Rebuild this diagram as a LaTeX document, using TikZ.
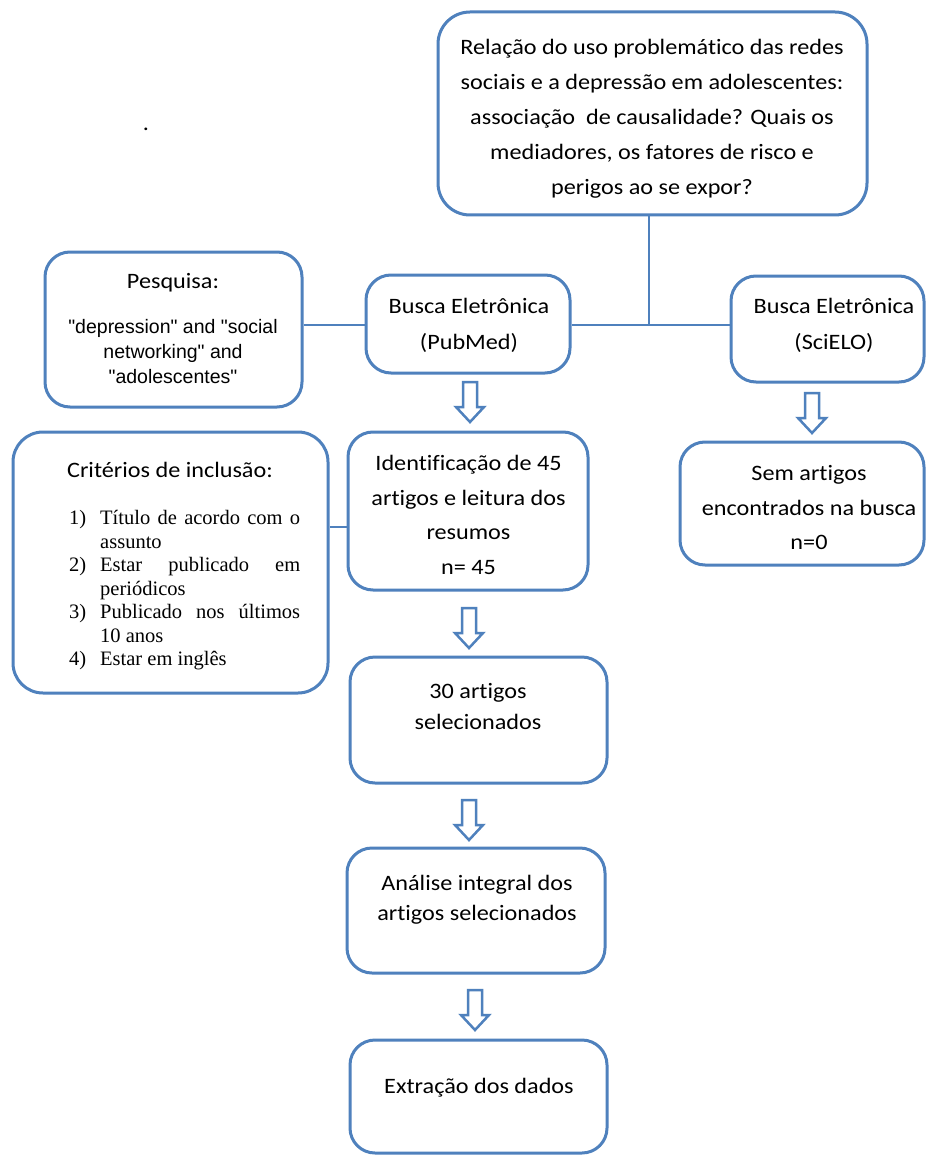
\documentclass[tikz,border=0pt]{standalone}
\usepackage{fontspec}
\setmainfont{Carlito}[FakeStretch=1.1, Ligatures=NoCommon]
\newfontfamily\seriffont{Liberation Serif}
\newfontfamily\arialfont{Liberation Sans}
\usetikzlibrary{fit}
\definecolor{bblue}{RGB}{79,129,189}
\tikzset{
  box/.style={draw=bblue, line width=3pt, rounded corners=25pt, inner sep=0pt},
  bigbox/.style={box, rounded corners=32pt},
  conn/.style={draw=bblue, line width=2pt},
  arrowline/.style={draw=bblue, line width=2.5pt, fill=white, line join=miter},
  txt/.style={align=center, inner sep=0pt, font=\fontsize{22}{35}\selectfont},
  blockarrow/.pic={\path[arrowline] (-7,0) -- (7,0) -- (7,25) -- (14,25) -- (0,40) -- (-14,25) -- (-7,25) -- cycle;}
}
\begin{document}
\begin{tikzpicture}[x=1pt,y=-1pt]
\useasboundingbox[fill=white] (0,0) rectangle (926,1158);
% boxes
\node[bigbox, fit={(438,12) (867,215)}] (top) {};
\node[box, fit={(45,252) (302,407)}] (pesq) {};
\node[box, fit={(366,275) (570,373)}] (pub) {};
\node[box, fit={(731,276) (924,382)}] (sci) {};
\node[box, fit={(348,432) (588,590)}] (ident) {};
\node[box, fit={(13,432) (328,693)}, rounded corners=30pt] (crit) {};
\node[box, fit={(680,442) (924,565)}] (sem) {};
\node[box, fit={(350,657) (607,783)}] (trinta) {};
\node[box, fit={(347,848) (605,973)}] (anal) {};
\node[box, fit={(350,1040) (607,1153)}] (extr) {};
% connectors
\coordinate (j) at (649,325);
\coordinate (cl) at (0,527);
\draw[conn] (j |- top.south) -- (j);
\draw[conn] (pub.east |- j) -- (sci.west |- j);
\draw[conn] (pesq.east |- j) -- (pub.west |- j);
\draw[conn, line width=1.5pt] (crit.east |- cl) -- (ident.west |- cl);
% block arrows
\pic at (470,382) {blockarrow};
\pic at (812,393) {blockarrow};
\pic at (469,608) {blockarrow};
\pic at (469,800) {blockarrow};
\pic at (475,990) {blockarrow};
% texts
\node[anchor=base, inner sep=0pt, font=\fontsize{22}{22}\selectfont] (dot) at (146,131) {.};
\node[txt] (ttop) at (652,119) {Relação do uso problemático das redes\\sociais e a depressão em adolescentes:\\associação\ \ de causalidade? Quais os\\mediadores, os fatores de risco e\\perigos ao se expor?};
\node[txt] (tpesq1) at (173,283) {Pesquisa:};
\node[txt, font=\arialfont\fontsize{19.5}{25}\selectfont] (tpesq2) at (173,352) {"depression" and "social\\networking" and\\"adolescentes"};
\node[txt, font=\fontsize{22}{36}\selectfont] (tpub) at (469,325) {Busca Eletrônica\\(PubMed)};
\node[txt, font=\fontsize{22}{36}\selectfont] (tsci) at (834,325) {Busca Eletrônica\\(SciELO)};
\node[txt, font=\fontsize{22}{34.5}\selectfont] (tident) at (468.5,515) {Identificação de 45\\artigos e leitura dos\\resumos\\n= 45};
\node[txt, font=\fontsize{22}{34.5}\selectfont] (tsem) at (809,508) {Sem artigos\\encontrados na busca\\n=0};
\node[txt] (tcrit) at (170,470) {Critérios de inclusão:};
\node[anchor=west, align=left, inner sep=0pt, font=\seriffont\fontsize{20.5}{23.5}\selectfont] (tlist) at (69,590.5) {%
\makebox[31pt][l]{1)}\makebox[200pt][s]{Título de acordo com o}\\
\hspace*{31pt}assunto\\
\makebox[31pt][l]{2)}\makebox[200pt][s]{Estar publicado em}\\
\hspace*{31pt}periódicos\\
\makebox[31pt][l]{3)}\makebox[200pt][s]{Publicado nos últimos}\\
\hspace*{31pt}10 anos\\
\makebox[31pt][l]{4)}Estar em inglês};
\node[txt, font=\fontsize{22}{31}\selectfont] (ttrinta) at (478,707) {30 artigos\\selecionados};
\node[txt, font=\fontsize{22}{30}\selectfont] (tanal) at (477,900) {Análise integral dos\\artigos selecionados};
\node[txt] (textr) at (479,1088) {Extração\ dos dados};
\end{tikzpicture}
\end{document}
